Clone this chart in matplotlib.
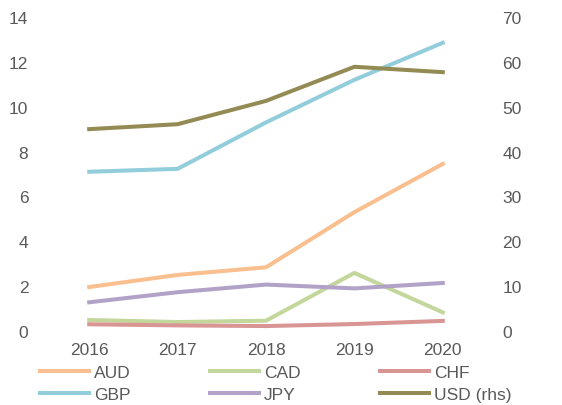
import matplotlib
matplotlib.use("Agg")
import matplotlib.pyplot as plt

years = ["2016", "2017", "2018", "2019", "2020"]
aud = [1.96, 2.5, 2.84, 5.3, 7.45]
cad = [0.49, 0.40, 0.46, 2.59, 0.83]
chf = [0.30, 0.25, 0.22, 0.31, 0.45]
gbp = [7.1, 7.23, 9.3, 11.2, 12.85]
jpy = [1.28, 1.73, 2.07, 1.9, 2.14]
usd = [45.0, 46.1, 51.3, 58.9, 57.7]

colors = {
    "AUD": "#F9BF8F",
    "CAD": "#C3D69B",
    "CHF": "#D99594",
    "GBP": "#92CDDC",
    "JPY": "#B2A2C7",
    "USD": "#948A54",
}

plt.rcParams['font.family'] = ['Liberation Sans', 'DejaVu Sans']
txt = "#595959"

fig = plt.figure(figsize=(5.62, 4.06), dpi=100)
ax = fig.add_axes([45/562, 1-332/406, (487-45)/562, (332-18)/406])
ax2 = ax.twinx()

x = list(range(len(years)))
lw = 2.9
hd = {}
hd["AUD"], = ax.plot(x, aud, color=colors["AUD"], lw=lw, label="AUD")
hd["CAD"], = ax.plot(x, cad, color=colors["CAD"], lw=lw, label="CAD")
hd["CHF"], = ax.plot(x, chf, color=colors["CHF"], lw=lw, label="CHF")
hd["GBP"], = ax.plot(x, gbp, color=colors["GBP"], lw=lw, label="GBP")
hd["JPY"], = ax.plot(x, jpy, color=colors["JPY"], lw=lw, label="JPY")
hd["USD"], = ax2.plot(x, usd, color=colors["USD"], lw=lw, label="USD (rhs)")

ax.set_xlim(-0.5, 4.5)
ax.set_ylim(0, 14)
ax2.set_ylim(0, 70)
ax.set_yticks(range(0, 15, 2))
ax2.set_yticks(range(0, 71, 10))
ax.set_xticks(x)
ax.set_xticklabels(years)

for a in (ax, ax2):
    for s in a.spines.values():
        s.set_visible(False)
    a.tick_params(length=0, labelsize=12.5, colors=txt)
ax.tick_params(axis='y', pad=12)
ax2.tick_params(axis='y', pad=11)
ax.tick_params(axis='x', pad=8)

order = ["AUD", "GBP", "CAD", "JPY", "CHF", "USD"]
handles = [hd[k] for k in order]
leg = fig.legend(handles, [hh.get_label() for hh in handles], ncol=3, loc='upper left',
                 bbox_to_anchor=(40/562, 1-366/406), frameon=False,
                 fontsize=12.5, handlelength=2.8, handletextpad=0.3,
                 columnspacing=4.58, labelspacing=0.4, borderpad=0,
                 borderaxespad=0)
for t in leg.get_texts():
    t.set_color(txt)

fig.savefig("out.png", dpi=100)
